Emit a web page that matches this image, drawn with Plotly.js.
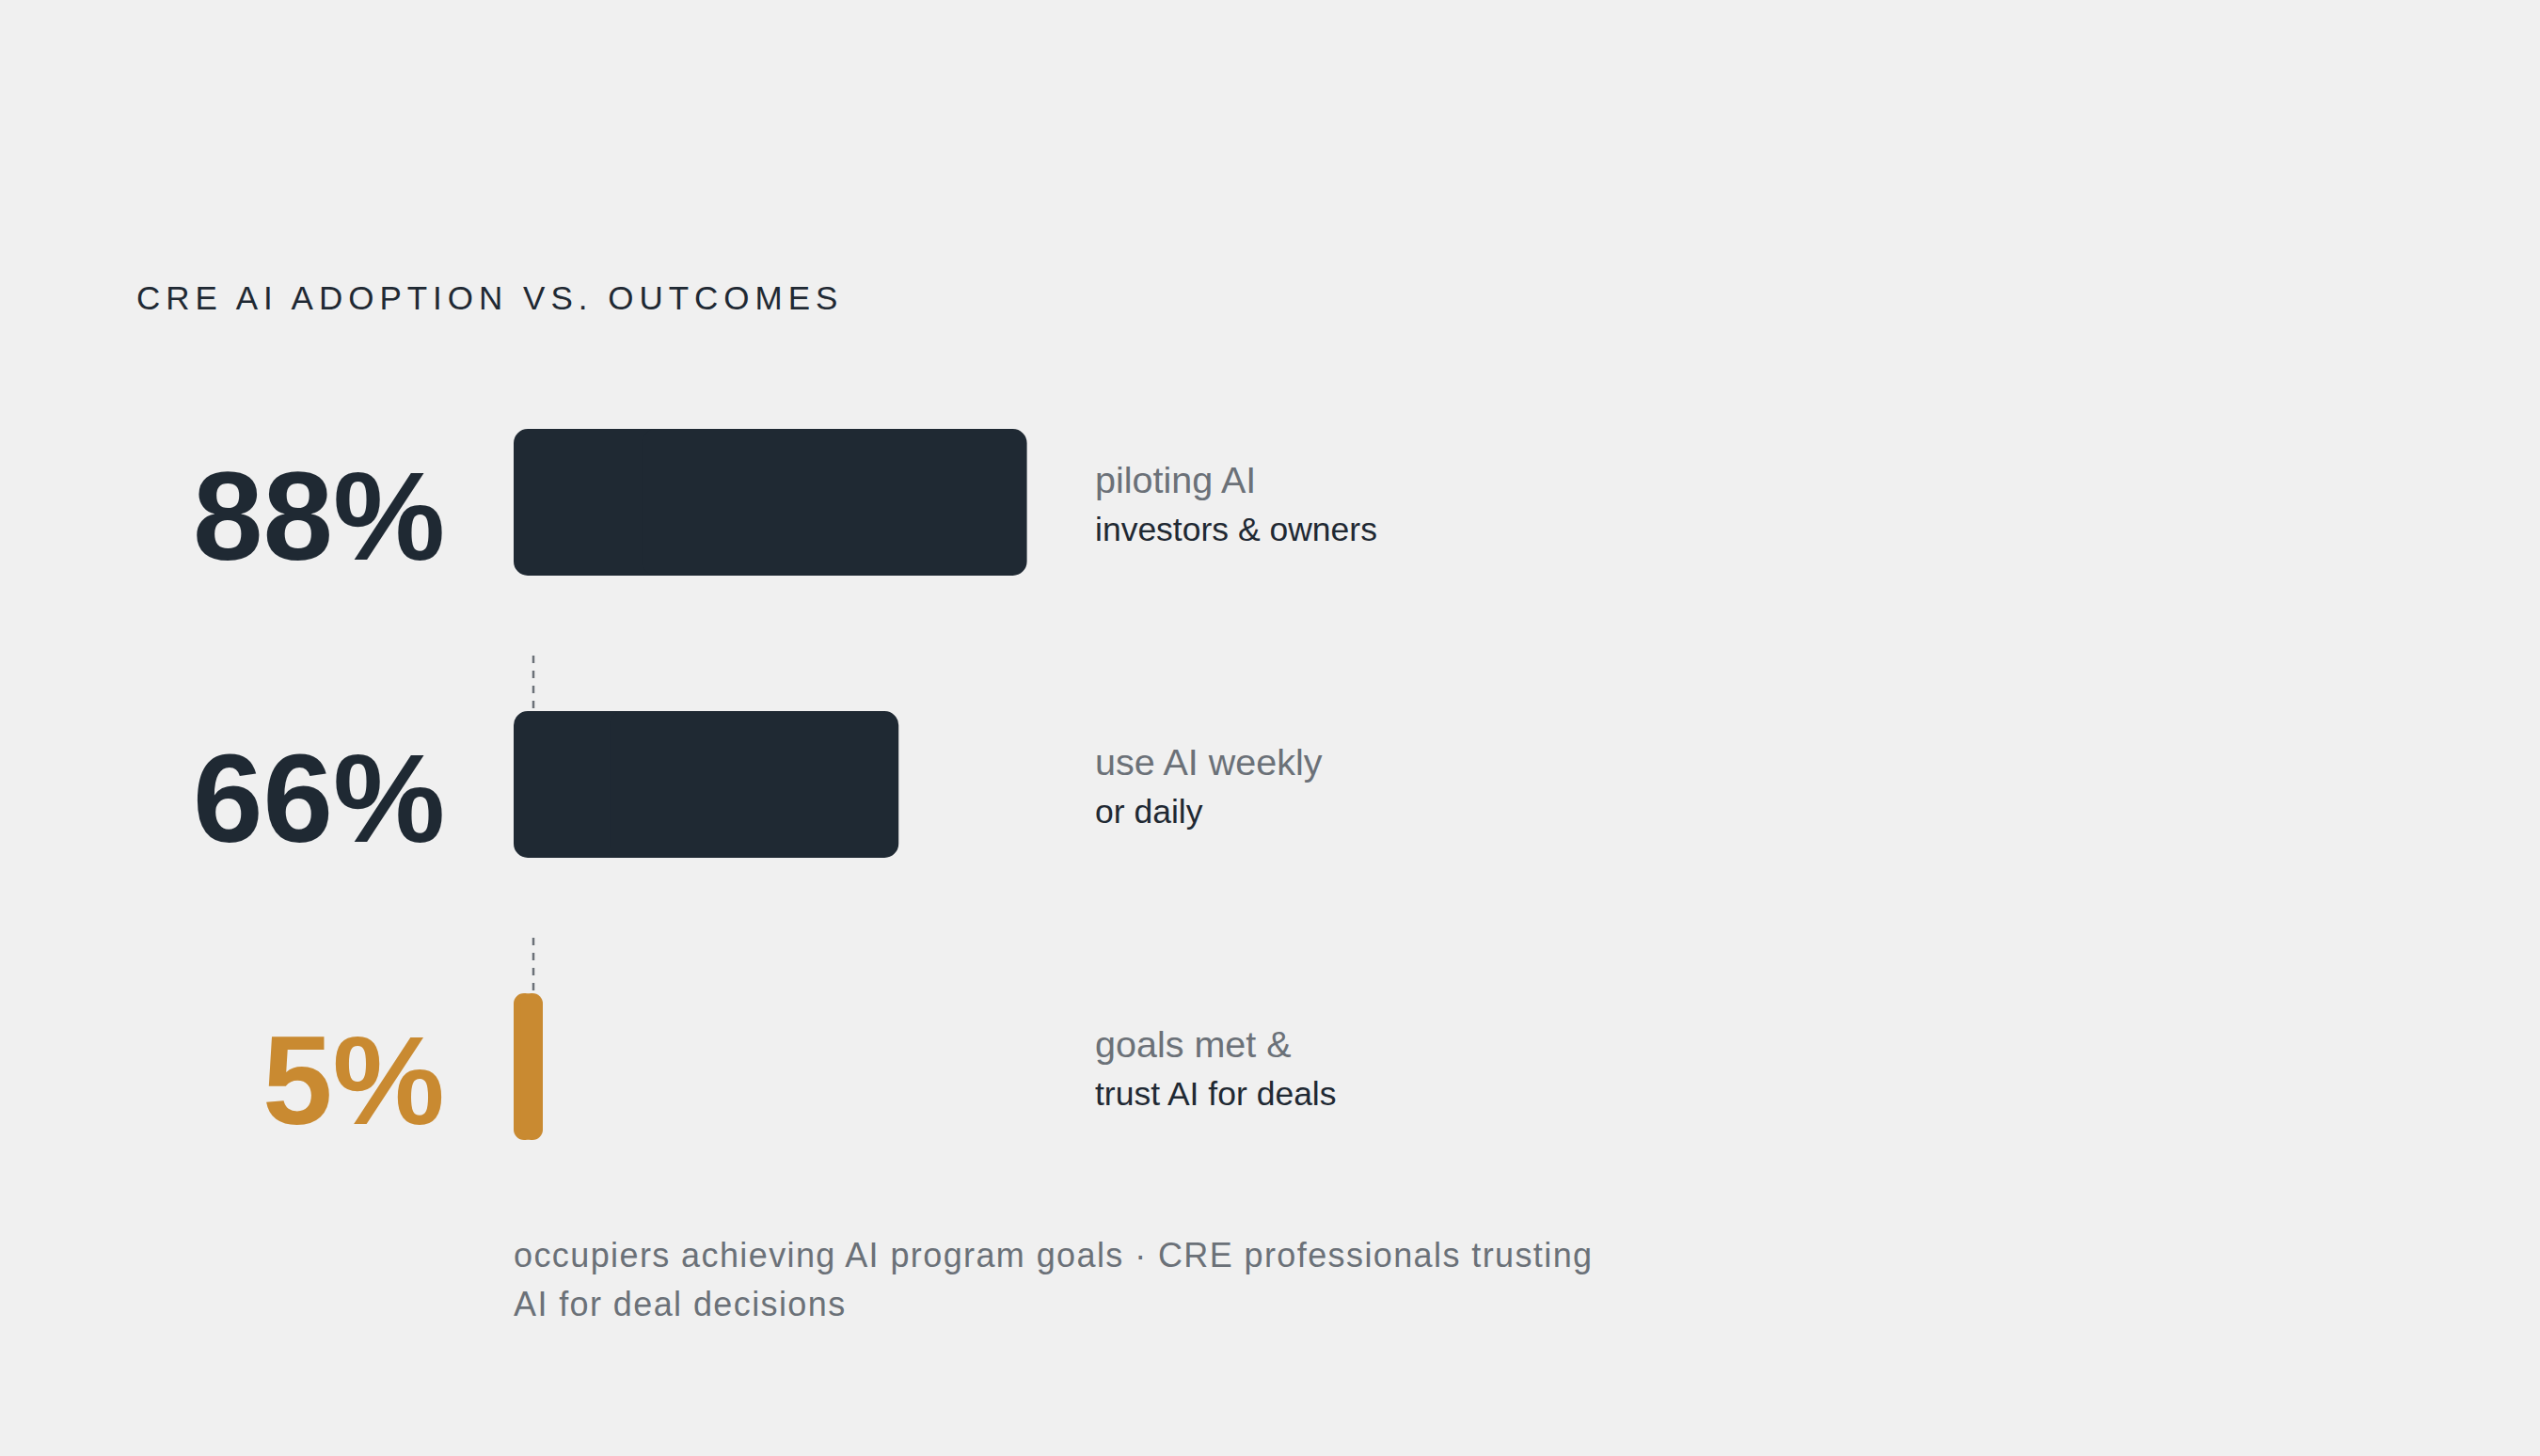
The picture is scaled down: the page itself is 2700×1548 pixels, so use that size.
<!DOCTYPE html>
<html>
<head>
<meta charset="utf-8">
<script src="https://cdn.plot.ly/plotly-3.0.1.min.js"></script>
<style>
  html, body { margin: 0; padding: 0; background: #f0f0f0; }
  #chart { width: 2700px; height: 1548px; }
  .gtitle { letter-spacing: 6px; }
  .annotation[data-index="9"] text,
  .annotation[data-index="10"] text { letter-spacing: 1.4px; }
</style>
</head>
<body>
<div id="chart"></div>
<script>
// values
const shareValues = [88, 66, 5];
const shareLabels = ['88%', '66%', '5%'];
const leadLines = ['piloting AI', 'use AI weekly', 'goals met &'];
const subLines = ['investors & owners', 'or daily', 'trust AI for deals'];
const isOutcome = [false, false, true];
const footnoteLines = [
  'occupiers achieving AI program goals · CRE professionals trusting',
  'AI for deal decisions'
];

const DARK = '#1f2933';
const GOLD = '#c98a31';
const GREY = '#6b7178';
const FONT = '"Liberation Sans", Arial, Helvetica, sans-serif';

const rows = shareValues.map((v, i) => i);
const barColors = isOutcome.map(o => o ? GOLD : DARK);

// plotly only rounds the far end of a bar, so each bar is drawn as two
// overlapping pieces, one growing left and one growing right: both ends round
const leftPiece = {
  type: 'bar', orientation: 'h',
  y: rows,
  base: shareValues.map(v => v * 0.75),
  x: shareValues.map(v => -v * 0.75),
  width: 0.52,
  marker: { color: barColors, line: { width: 0 } },
  hoverinfo: 'skip'
};
const rightPiece = {
  type: 'bar', orientation: 'h',
  y: rows,
  base: shareValues.map(v => v * 0.25),
  x: shareValues.map(v => v * 0.75),
  width: 0.52,
  marker: { color: barColors, line: { width: 0 } },
  hoverinfo: 'skip'
};

let annotations = [];
rows.forEach(i => {
  annotations.push({
    xref: 'x', yref: 'y', x: 0, y: i,
    xanchor: 'right', yanchor: 'middle', xshift: -71, yshift: -14,
    text: shareLabels[i], showarrow: false,
    font: { family: FONT, size: 134, weight: 700, color: isOutcome[i] ? GOLD : DARK }
  });
  annotations.push({
    xref: 'x', yref: 'y', x: 100, y: i,
    xanchor: 'left', yanchor: 'middle', xshift: -4, yshift: 24,
    text: leadLines[i], showarrow: false,
    font: { family: FONT, size: 39.5, color: GREY }
  });
  annotations.push({
    xref: 'x', yref: 'y', x: 100, y: i,
    xanchor: 'left', yanchor: 'middle', xshift: -4, yshift: -29,
    text: subLines[i], showarrow: false,
    font: { family: FONT, size: 35.5, color: DARK }
  });
});
footnoteLines.forEach((line, k) => {
  annotations.push({
    xref: 'x', yref: 'paper', x: 0, y: 0,
    xanchor: 'left', yanchor: 'middle', align: 'left', xshift: -2, yshift: -50 - k * 52,
    text: line, showarrow: false,
    font: { family: FONT, size: 36, color: GREY }
  });
});

// dashed connectors dropping into the top of the next bar
const shapes = rows.slice(1).map(i => ({
  type: 'line',
  xref: 'x', yref: 'y',
  xsizemode: 'pixel', xanchor: 0, x0: 21, x1: 21,
  ysizemode: 'pixel', yanchor: i, y0: 137, y1: 78,
  line: { color: GREY, width: 2.5, dash: '8px,8px' },
  layer: 'below'
}));

const layout = {
  width: 2700,
  height: 1548,
  paper_bgcolor: '#f0f0f0',
  plot_bgcolor: '#f0f0f0',
  margin: { l: 546, r: 1533.5, t: 384, b: 264, pad: 0 },
  showlegend: false,
  barmode: 'overlay',
  barcornerradius: 15,
  title: {
    text: 'CRE AI ADOPTION VS. OUTCOMES',
    xref: 'container', yref: 'container',
    x: 145 / 2700, y: 1 - 317 / 1548,
    xanchor: 'left', yanchor: 'middle',
    font: { family: FONT, size: 35, color: DARK }
  },
  xaxis: { range: [0, 100], visible: false, fixedrange: true },
  yaxis: { range: [2.5, -0.5], visible: false, fixedrange: true },
  annotations: annotations,
  shapes: shapes
};

Plotly.newPlot('chart', [leftPiece, rightPiece], layout, { staticPlot: true, displayModeBar: false });
</script>
</body>
</html>
